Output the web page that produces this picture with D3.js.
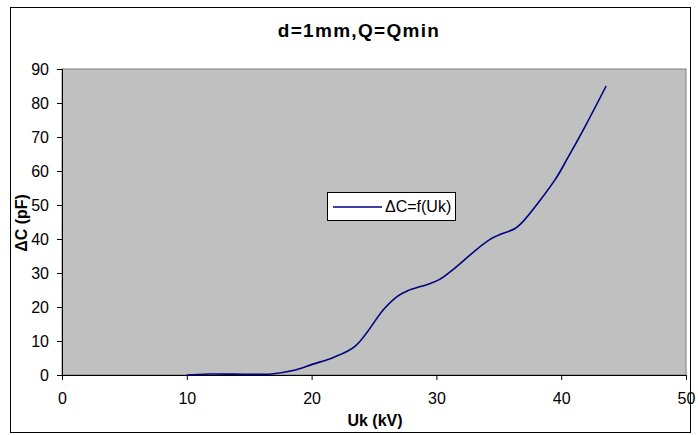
<!DOCTYPE html>
<html><head><meta charset="utf-8">
<script src="https://cdn.jsdelivr.net/npm/d3@7"></script>
<style>body{margin:0;background:#fff}svg{display:block;font-family:Arial,"Liberation Sans",sans-serif}</style>
</head><body>
<script>
const ukValues = [10, 11.8, 16.8, 18.5, 20.1, 21.7, 23.5, 25.8, 26.9, 27.7, 29.4, 30.3, 31.3, 34.3, 36.3, 36.8, 39.5, 40.5, 41.9, 43.6];
const dcValues = [0, 0.3, 0.3, 1.3, 3.2, 5.1, 8.5, 19.4, 23.2, 24.8, 26.8, 28.2, 30.9, 39.9, 43.1, 44.6, 57.4, 63.7, 73, 85];
const xTicks = [0, 10, 20, 30, 40, 50];
const yTicks = [0, 10, 20, 30, 40, 50, 60, 70, 80, 90];
const title = "d=1mm,Q=Qmin";
const xTitle = "Uk (kV)";
const yTitle = "ΔC (pF)";
const seriesName = "ΔC=f(Uk)";

const W = 698, H = 435;
const FONT = "Arial, 'Liberation Sans', sans-serif";
const svg = d3.select("body").append("svg").attr("width", W).attr("height", H);
svg.append("rect").attr("x", 10.5).attr("y", 7.5).attr("width", 680).attr("height", 425)
  .attr("fill", "#fff").attr("stroke", "#000").attr("stroke-width", 1);

const L = 62, R = 686, T = 69, B = 375;
const x = d3.scaleLinear().domain([0, 50]).range([L, R]);
const y = d3.scaleLinear().domain([0, 90]).range([B, T]);

svg.append("rect").attr("x", L).attr("y", T).attr("width", R - L).attr("height", B - T)
  .attr("fill", "#C0C0C0").attr("stroke", "#808080").attr("stroke-width", 1);

const xa = svg.append("g").attr("transform", `translate(0,${B})`)
  .call(d3.axisBottom(x).tickValues(xTicks).tickSize(5).tickPadding(13).tickFormat(d3.format("d")));
const ya = svg.append("g").attr("transform", `translate(${L},0)`)
  .call(d3.axisLeft(y).tickValues(yTicks).tickSize(5).tickPadding(8).tickFormat(d3.format("d")));
[xa, ya].forEach(g => {
  g.selectAll("text").attr("font-size", 16).attr("fill", "#000").attr("font-family", FONT);
  g.selectAll("line, path").attr("stroke", "#000");
});

const pts = ukValues.map((u, i) => [u, dcValues[i]]);
svg.append("path").datum(pts)
  .attr("d", d3.line().x(d => x(d[0])).y(d => y(d[1])).curve(d3.curveCatmullRom.alpha(0.5)))
  .attr("fill", "none").attr("stroke", "#000080").attr("stroke-width", 1.6);

svg.append("text").attr("x", 359).attr("y", 37).attr("text-anchor", "middle")
  .attr("font-size", 19).attr("font-weight", "bold").attr("letter-spacing", 1.3).text(title);
svg.append("text").attr("x", 375).attr("y", 426).attr("text-anchor", "middle")
  .attr("font-size", 16).attr("font-weight", "bold").text(xTitle);
svg.append("text").attr("transform", "translate(27,223) rotate(-90)").attr("text-anchor", "middle")
  .attr("font-size", 16).attr("font-weight", "bold").text(yTitle);

const lg = svg.append("g");
lg.append("rect").attr("x", 327.5).attr("y", 192.5).attr("width", 128).attr("height", 28)
  .attr("fill", "#fff").attr("stroke", "#000").attr("stroke-width", 1);
lg.append("line").attr("x1", 333).attr("x2", 382).attr("y1", 207).attr("y2", 207)
  .attr("stroke", "#000080").attr("stroke-width", 1.6);
lg.append("text").attr("x", 385).attr("y", 212).attr("font-size", 16).text(seriesName);
</script>
</body></html>
